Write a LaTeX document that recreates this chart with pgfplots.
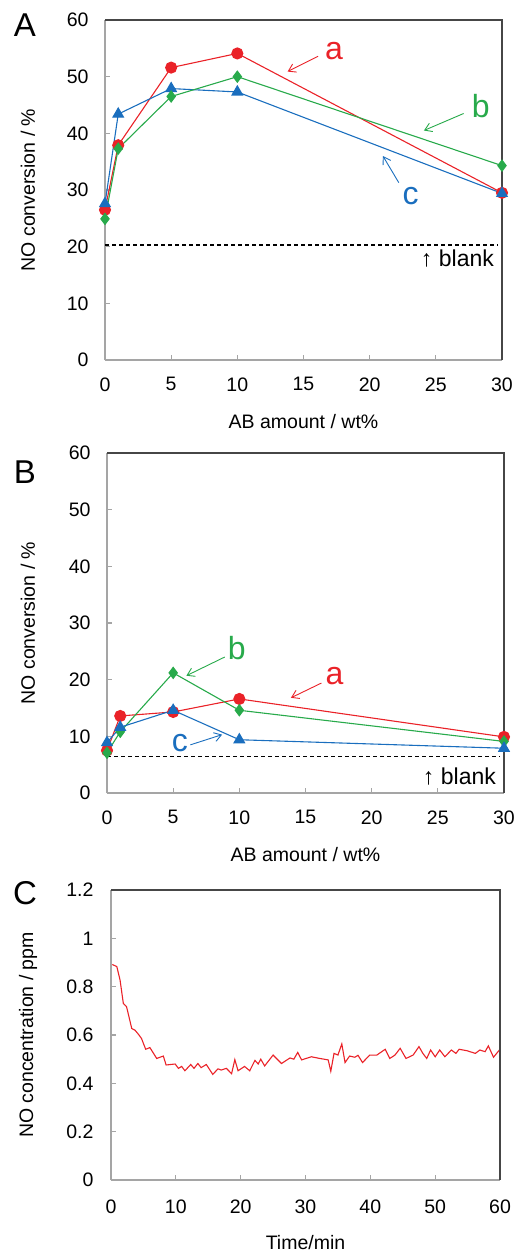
\documentclass[border=0pt]{standalone}
\usepackage{fontspec}
\setmainfont{Liberation Sans}
\usepackage{pgfplots}
\pgfplotsset{compat=1.18}
\usetikzlibrary{arrows.meta}
\definecolor{cred}{RGB}{234,34,40}
\definecolor{cgreen}{RGB}{40,170,75}
\definecolor{cblue}{RGB}{26,110,190}
\definecolor{axgray}{RGB}{165,165,165}
\definecolor{axdark}{RGB}{70,70,70}
\pgfplotsset{
  myax/.style={
    scale only axis,
    anchor=north west,
    axis lines=left,
    axis line style={-, axgray, line width=1.3pt},
    tick align=inside,
    major tick length=5pt,
    tick style={axgray, line width=1.1pt},
    font=\fontsize{19.5}{21}\selectfont,
    /pgf/number format/assume math mode=true,
    clip=false,
    every axis y label/.style={at={(rel axis cs:0,0.5)}, rotate=90, anchor=center, font=\fontsize{19.5}{21}\selectfont},
    every axis x label/.style={at={(rel axis cs:0.5,0)}, anchor=center, font=\fontsize{19.5}{21}\selectfont},
  },
  abax/.style={
    myax,
    width=397pt, height=340pt,
    xmin=0, xmax=30, ymin=0, ymax=60,
    xtick={0,5,...,30}, ytick={0,10,...,60},
    yticklabel style={xshift=-13pt},
    xticklabel style={yshift=-14pt},
    xlabel={AB amount / wt\%},
    ylabel={NO conversion / \%},
  },
}
\begin{document}
\begin{tikzpicture}
\useasboundingbox (0,0) rectangle (514pt,-1255pt);
% ---------------- Panel A
\begin{axis}[abax, at={(105pt,-20pt)},
  xlabel style={yshift=-62pt}, ylabel style={yshift=77pt}]
\addplot[black, dashed, line width=1.1pt, dash pattern=on 4pt off 3pt] coordinates {(0,20.3) (29.7,20.3)};
\addplot[cred, line width=1.1pt, mark=*, mark size=5.5pt, mark options={solid, fill=cred, draw=cred}]
  coordinates {(0,26.5) (1,37.9) (5,51.6) (10,54.1) (30,29.5)};
\addplot[cblue, line width=1.1pt, mark=triangle*, mark size=6pt, mark options={solid, fill=cblue, draw=cblue}]
  coordinates {(0,27.6) (1,43.4) (5,47.9) (10,47.3) (30,29.4)};
\addplot[cgreen, line width=1.1pt, mark=diamond*, mark size=5.5pt, mark options={solid, fill=cgreen, draw=cgreen}]
  coordinates {(0,24.9) (1,37.3) (5,46.5) (10,50.0) (30,34.3)};
\draw[axdark, line width=1.3pt] (rel axis cs:0,1) -- (rel axis cs:1,1) -- (rel axis cs:1,0);
\node[cred, font=\fontsize{32}{32}\selectfont] at (axis cs:17.3,54.6) {a};
\draw[cred, line width=0.9pt, -{Straight Barb[length=7pt,width=9pt]}] (axis cs:16.1,53.6) -- (axis cs:13.8,50.9);
\node[cgreen, font=\fontsize{32}{32}\selectfont] at (axis cs:28.4,44.9) {b};
\draw[cgreen, line width=0.9pt, -{Straight Barb[length=7pt,width=9pt]}] (axis cs:27.1,43.5) -- (axis cs:24.1,40.5);
\node[cblue, font=\fontsize{32}{32}\selectfont] at (axis cs:23.1,29.0) {c};
\draw[cblue, line width=0.9pt, -{Straight Barb[length=7pt,width=9pt]}] (axis cs:22.2,31.3) -- (axis cs:21.0,36.0);
\node[anchor=east, font=\fontsize{23}{23}\selectfont, inner sep=0pt] at (axis cs:29.4,17.9) {↑ blank};
\end{axis}
% ---------------- Panel B
\begin{axis}[abax, at={(107pt,-453pt)},
  xlabel style={yshift=-62pt}, ylabel style={yshift=79pt}]
\addplot[black, dashed, line width=1.1pt, dash pattern=on 4pt off 3pt] coordinates {(0,6.4) (29.7,6.4)};
\addplot[cred, line width=1.1pt, mark=*, mark size=5.5pt, mark options={solid, fill=cred, draw=cred}]
  coordinates {(0,7.5) (1,13.6) (5,14.3) (10,16.6) (30,9.9)};
\addplot[cgreen, line width=1.1pt, mark=diamond*, mark size=5.5pt, mark options={solid, fill=cgreen, draw=cgreen}]
  coordinates {(0,7.1) (1,10.8) (5,21.2) (10,14.6) (30,9.1)};
\addplot[cblue, line width=1.1pt, mark=triangle*, mark size=6pt, mark options={solid, fill=cblue, draw=cblue}]
  coordinates {(0,8.9) (1,11.6) (5,14.6) (10,9.4) (30,7.9)};
\draw[axdark, line width=1.3pt] (rel axis cs:0,1) -- (rel axis cs:1,1) -- (rel axis cs:1,0);
\node[cgreen, font=\fontsize{32}{32}\selectfont] at (axis cs:9.8,25.5) {b};
\draw[cgreen, line width=0.9pt, -{Straight Barb[length=7pt,width=9pt]}] (axis cs:8.9,24.0) -- (axis cs:6.0,20.7);
\node[cred, font=\fontsize{32}{32}\selectfont] at (axis cs:17.2,20.6) {a};
\draw[cred, line width=0.9pt, -{Straight Barb[length=7pt,width=9pt]}] (axis cs:16.2,19.4) -- (axis cs:13.9,16.8);
\node[cblue, font=\fontsize{32}{32}\selectfont] at (axis cs:5.5,8.8) {c};
\draw[cblue, line width=0.9pt, -{Straight Barb[length=7pt,width=9pt]}] (axis cs:6.3,8.5) -- (axis cs:8.7,10.3);
\node[anchor=east, font=\fontsize{23}{23}\selectfont, inner sep=0pt] at (axis cs:29.4,3.0) {↑ blank};
\end{axis}
% ---------------- Panel C
\begin{axis}[myax, at={(111pt,-890pt)}, width=389pt, height=290pt,
  xmin=0, xmax=60, ymin=0, ymax=1.2,
  xtick={0,10,...,60}, ytick={0,0.2,0.4,0.6,0.8,1,1.2},
  yticklabel style={xshift=-14pt},
  xticklabel style={yshift=-16pt},
  xlabel={Time/min}, ylabel={NO concentration / ppm},
  xlabel style={yshift=-63pt}, ylabel style={yshift=83pt}]
\addplot[cred, line width=1.1pt] coordinates {
(0.2,0.892) (0.9,0.883) (1.4,0.827) (1.9,0.731) (2.4,0.717) (3.2,0.627) (3.7,0.620)
(4.2,0.604) (4.7,0.586) (5.35,0.541) (6.0,0.548) (7.05,0.503) (8.07,0.513) (8.5,0.476)
(9.9,0.480) (10.4,0.462) (10.9,0.470) (11.4,0.452) (12.3,0.478) (12.8,0.462) (13.4,0.482)
(13.9,0.465) (14.7,0.478) (15.7,0.437) (16.5,0.460) (17.0,0.455) (17.8,0.462) (18.6,0.440)
(19.1,0.498) (19.6,0.452) (20.6,0.470) (21.4,0.452) (22.2,0.495) (22.7,0.480) (23.1,0.500)
(23.7,0.472) (25.0,0.517) (26.3,0.482) (27.6,0.505) (28.2,0.500) (28.8,0.528) (29.4,0.497)
(30.9,0.510) (32.2,0.503) (33.5,0.497) (33.9,0.450) (34.4,0.524) (35.0,0.517) (35.6,0.563)
(36.1,0.486) (36.8,0.513) (37.6,0.508) (38.1,0.516) (38.8,0.486) (39.9,0.517) (41.0,0.517)
(42.3,0.541) (43.0,0.503) (43.8,0.517) (44.6,0.545) (45.5,0.503) (46.6,0.517) (47.5,0.552)
(48.1,0.524) (48.7,0.503) (49.3,0.538) (50.0,0.510) (50.7,0.538) (51.5,0.510) (52.5,0.538)
(53.2,0.524) (53.7,0.541) (54.9,0.535) (56.2,0.524) (56.9,0.538) (57.7,0.531) (58.2,0.555)
(59.0,0.508) (60.0,0.541)};
\draw[axdark, line width=1.3pt] (rel axis cs:0,1) -- (rel axis cs:1,1) -- (rel axis cs:1,0);
\end{axis}
% panel letters
\node[font=\fontsize{33}{33}\selectfont] at (25pt,-25pt) {A};
\node[font=\fontsize{33}{33}\selectfont] at (25pt,-472pt) {B};
\node[font=\fontsize{33}{33}\selectfont] at (25pt,-893pt) {C};
\end{tikzpicture}
\end{document}
